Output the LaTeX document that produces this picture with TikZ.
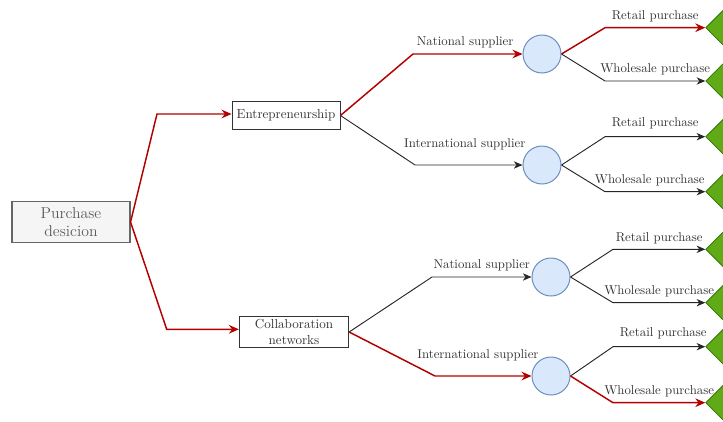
\documentclass[tikz,border=0pt]{standalone}
\usetikzlibrary{arrows.meta,shapes.geometric}
\definecolor{redl}{HTML}{B20000}
\definecolor{txt}{HTML}{333333}
\definecolor{cfill}{HTML}{DAE8FC}
\definecolor{cdraw}{HTML}{6C8EBF}
\definecolor{dfill}{HTML}{60A917}
\definecolor{ddraw}{HTML}{2D7600}
\definecolor{gfill}{HTML}{F5F5F5}
\definecolor{gdraw}{HTML}{666666}
\tikzset{
  box/.style={draw=txt, line width=0.7pt, fill=white, text=txt, font=\fontsize{9.8}{11.5}\selectfont, align=center, inner sep=0pt},
  mainbox/.style={draw=gdraw, line width=0.8pt, fill=gfill, text=txt!80!white, font=\fontsize{11.8}{13.5}\selectfont, align=center, inner sep=0pt},
  chance/.style={circle, draw=cdraw, fill=cfill, line width=0.75pt, minimum size=28.5pt, inner sep=0pt},
  leaf/.style={diamond, draw=ddraw, fill=dfill, line width=0.6pt, minimum width=32pt, minimum height=32pt, inner sep=0pt, aspect=1},
  redarr/.style={draw=redl, line width=1.1pt, -{Stealth[length=7.5pt,width=6.5pt,inset=2.5pt]}},
  blkarr/.style={draw=black!85, line width=0.7pt, -{Stealth[length=6.5pt,width=5.5pt,inset=2pt]}},
  lab/.style={above=2pt, text=txt, font=\fontsize{9.6}{11}\selectfont, inner sep=2pt, midway},
  hilab/.style={lab, yshift=7pt},
}
\begin{document}
\begin{tikzpicture}[x=0.75pt,y=-0.75pt]
\useasboundingbox (0,0) rectangle (723,421);
% nodes
\node[mainbox, minimum width=88.5pt, minimum height=30.75pt] (pd) at (71,222) {Purchase\\desicion};
\node[box, minimum width=81pt, minimum height=21pt] (ent) at (286,115.5) {Entrepreneurship};
\node[box, minimum width=82pt, minimum height=23.5pt] (col) at (294,332) {Collaboration\\networks};
\node[chance] (c1) at (542,54) {};
\node[chance] (c2) at (542,165) {};
\node[chance] (c3) at (551,277) {};
\node[chance] (c4) at (551,376) {};
\node[leaf] (d1) at (727,27.7) {};
\node[leaf] (d2) at (727,81) {};
\node[leaf] (d3) at (727,136.7) {};
\node[leaf] (d4) at (727,191.7) {};
\node[leaf] (d5) at (727,249.3) {};
\node[leaf] (d6) at (727,302.7) {};
\node[leaf] (d7) at (727,346.7) {};
\node[leaf] (d8) at (727,402.7) {};
% first level
\draw[redarr] (pd.east) -- (157,114) -- (ent.west |- 0,114);
\draw[redarr] (pd.east) -- (166.7,329.3) -- (col.west |- 0,329.3);
% second level
\draw[redarr] (ent.east) -- (413,54) -- node[lab, xshift=-2pt]{National supplier} (c1.west);
\draw[blkarr] (ent.east) -- (415,165) -- node[hilab, xshift=-3pt]{International supplier} (c2.west);
\draw[blkarr] (col.east) -- (432,277) -- node[lab]{National supplier} (c3.west);
\draw[redarr] (col.east) -- (435,376) -- node[hilab, xshift=-4pt]{International supplier} (c4.west);
% third level
\draw[redarr] (c1.east) -- (605,27.7) -- node[lab]{Retail purchase} (d1.west);
\draw[blkarr] (c1.east) -- (605,81) -- node[lab]{Wholesale purchase} (d2.west);
\draw[blkarr] (c2.east) -- (605,136.7) -- node[lab, yshift=1.5pt]{Retail purchase} (d3.west);
\draw[blkarr] (c2.east) -- (605,191.7) -- node[lab, xshift=-4pt]{Wholesale purchase} (d4.west);
\draw[blkarr] (c3.east) -- (613,249.3) -- node[lab]{Retail purchase} (d5.west);
\draw[blkarr] (c3.east) -- (613,302.7) -- node[lab]{Wholesale purchase} (d6.west);
\draw[blkarr] (c4.east) -- (613,346.7) -- node[lab, xshift=3pt, yshift=1.5pt]{Retail purchase} (d7.west);
\draw[redarr] (c4.east) -- (613,402.7) -- node[lab]{Wholesale purchase} (d8.west);
\end{tikzpicture}
\end{document}
